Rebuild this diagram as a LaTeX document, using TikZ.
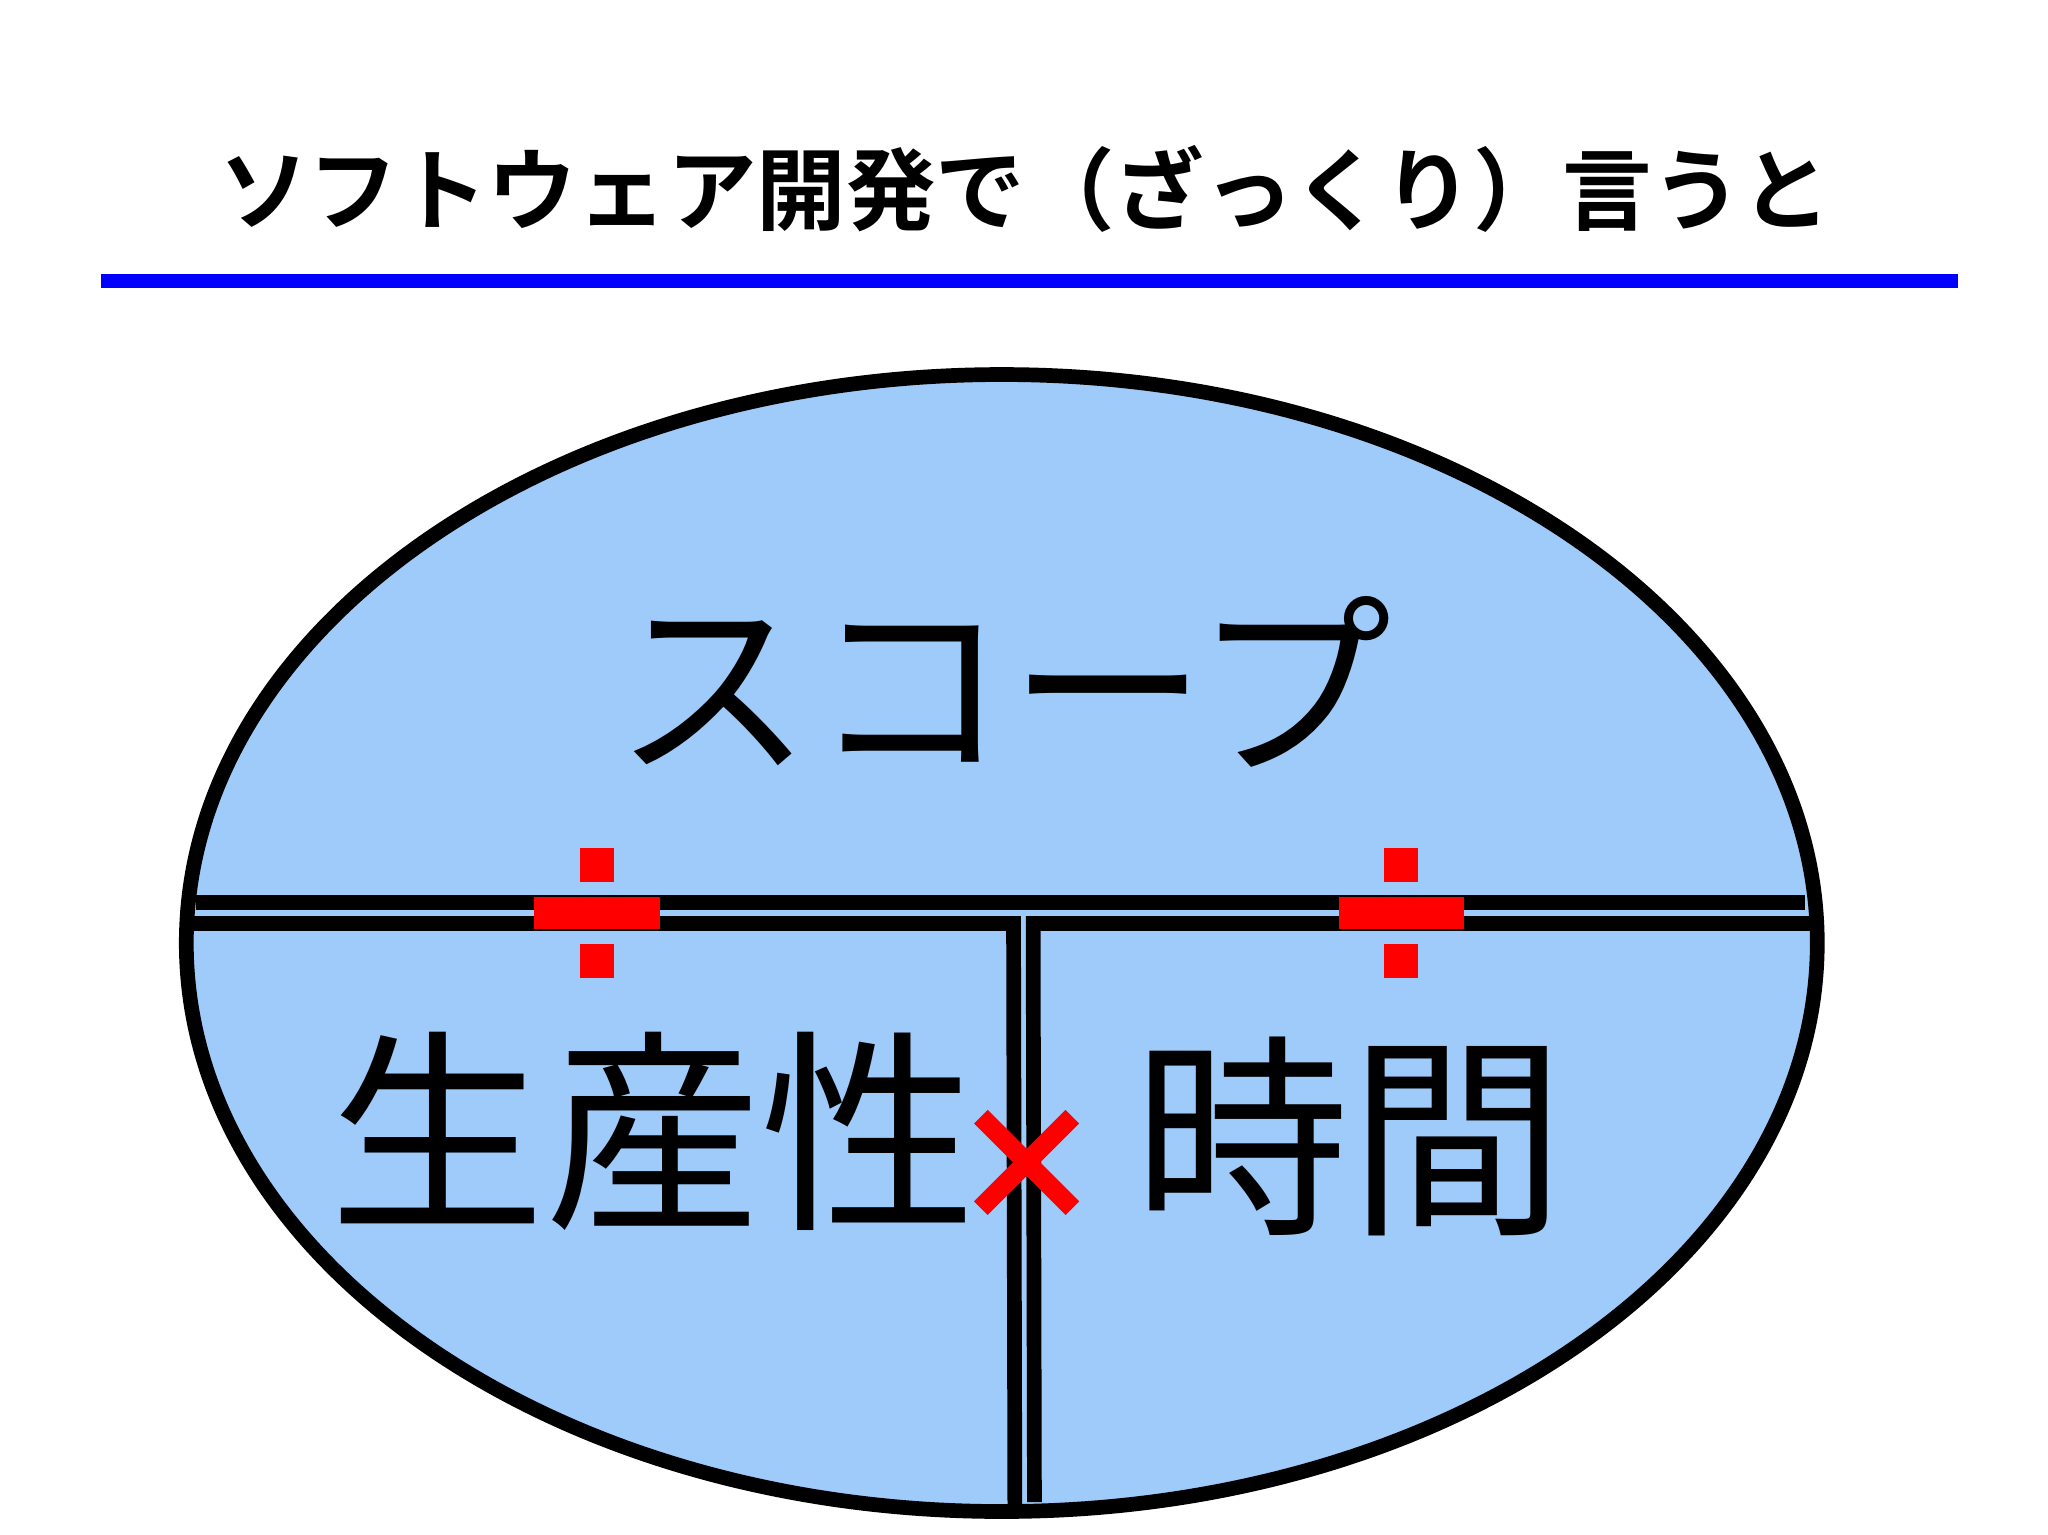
\documentclass[tikz,border=0pt]{standalone}
\usepackage{fontspec}
\usetikzlibrary{shapes.geometric}
\newfontfamily\jp{Noto Sans CJK JP}
\newfontfamily\jpb{Noto Sans CJK JP Bold}
\begin{document}
\begin{tikzpicture}[x=0.01cm,y=-0.01cm,
  lab/.style={inner sep=0,font=\jp},
  dl/.style={line width=3.2pt}]
\useasboundingbox (0,0) rectangle (1568,1175);
\node[lab,font=\jpb\fontsize{19.5pt}{22pt}\selectfont] (title) at (785,145) {ソフトウェア開発で（ざっくり）言うと};
\draw[blue,line width=3pt] (77,215) -- (1499,215);
\node[draw=black,line width=3.2pt,fill={rgb,255:red,158;green,203;blue,250},ellipse,minimum width=12.48cm,minimum height=8.70cm,inner sep=0] (ell) at (767,722) {};
\coordinate (hl1) at (150,691); \coordinate (hr1) at (1382,691);
\coordinate (hl2) at (146,707); \coordinate (hr2) at (1386,707);
\coordinate (vt1) at (776,707); \coordinate (vb1) at (777,1152);
\coordinate (vt2) at (791,707); \coordinate (vb2) at (792,1150);
\draw[dl] (hl1) -- (hr1);
\draw[dl] (hl2) -- (vt1) -- (vb1);
\draw[dl] (hr2) -- (vt2) -- (vb2);
\foreach \cx in {457,1073}{
  \fill[red] (\cx-13,649) rectangle (\cx+13,675);
  \fill[red] (\cx-13,723) rectangle (\cx+13,749);
  \fill[red] (\cx-48,687) rectangle (\cx+48,711);
}
\node[lab,font=\jp\fontsize{43pt}{45pt}\selectfont] (scope) at (768,522) {スコープ};
\node[lab,font=\jp\fontsize{47pt}{50pt}\selectfont] (prod) at (500,866) {生産性};
\node[lab,font=\jp\fontsize{47pt}{50pt}\selectfont] (time) at (1033,870) {時間};
\coordinate (xa) at (751,855); \coordinate (xb) at (821,925);
\coordinate (xc) at (821,855); \coordinate (xd) at (751,925);
\draw[red,line width=4.2pt] (xa) -- (xb) (xc) -- (xd);
\end{tikzpicture}
\end{document}
